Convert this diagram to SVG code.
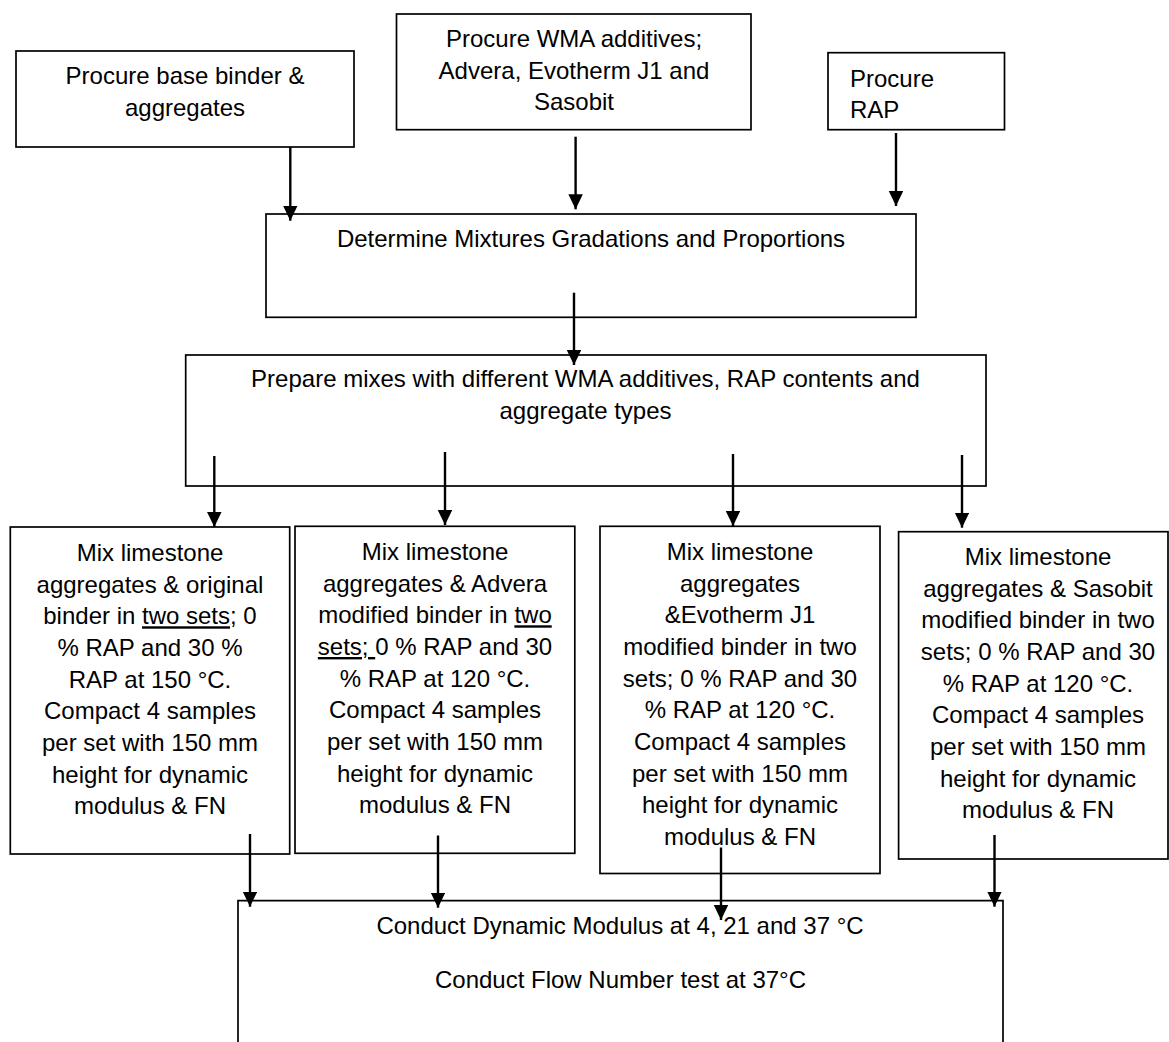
<svg xmlns="http://www.w3.org/2000/svg" width="1169" height="1042" viewBox="0 0 1169 1042">
<style>
.box{fill:#fff;stroke:#000;stroke-width:1.7}
.t{font-family:"Liberation Sans",Arial,sans-serif;font-size:24px;fill:#000}
.c{text-anchor:middle}
.ln{stroke:#000;stroke-width:2.4;fill:none}
.u{text-decoration:underline}
</style>
<defs>
<marker id="ah" markerWidth="16" markerHeight="16" refX="15" refY="7.25" orient="auto" markerUnits="userSpaceOnUse">
<path d="M0,0 L15,7.25 L0,14.5 Z" fill="#000"/>
</marker>
</defs>
<rect width="1169" height="1042" fill="#fff"/>

<g id="n-base">
<rect class="box" x="16" y="51" width="338" height="96"/>
<text class="t c" x="185" y="84">Procure base binder &amp;</text>
<text class="t c" x="185" y="115.7">aggregates</text>
</g>

<g id="n-wma">
<rect class="box" x="396.5" y="14" width="354.5" height="115.7"/>
<text class="t c" x="574" y="47">Procure WMA additives;</text>
<text class="t c" x="574" y="78.7">Advera, Evotherm J1 and</text>
<text class="t c" x="574" y="110.4">Sasobit</text>
</g>

<g id="n-rap">
<rect class="box" x="828" y="52.7" width="176.5" height="77"/>
<text class="t" x="850" y="86.5">Procure</text>
<text class="t" x="850" y="118">RAP</text>
</g>

<g id="n-determine">
<rect class="box" x="266" y="214" width="650" height="103.3"/>
<text class="t c" x="591" y="247">Determine Mixtures Gradations and Proportions</text>
</g>

<g id="n-prepare">
<rect class="box" x="185.7" y="355" width="800.3" height="131"/>
<text class="t c" x="585.5" y="387">Prepare mixes with different WMA additives, RAP contents and</text>
<text class="t c" x="585.5" y="418.5">aggregate types</text>
</g>

<g id="n-mixA">
<rect class="box" x="10.3" y="527" width="279.4" height="327"/>
<text class="t c" x="150" y="561">Mix limestone</text>
<text class="t c" x="150" y="592.7">aggregates &amp; original</text>
<text class="t c" x="150" y="624.3">binder in <tspan class="u">two sets</tspan>; 0</text>
<text class="t c" x="150" y="656">% RAP and 30 %</text>
<text class="t c" x="150" y="687.7">RAP at 150 °C.</text>
<text class="t c" x="150" y="719.3">Compact 4 samples</text>
<text class="t c" x="150" y="751">per set with 150 mm</text>
<text class="t c" x="150" y="782.7">height for dynamic</text>
<text class="t c" x="150" y="814.3">modulus &amp; FN</text>
</g>

<g id="n-mixB">
<rect class="box" x="295" y="526.3" width="279.8" height="327"/>
<text class="t c" x="435" y="560">Mix limestone</text>
<text class="t c" x="435" y="591.7">aggregates &amp; Advera</text>
<text class="t c" x="435" y="623.3">modified binder in <tspan class="u">two</tspan></text>
<text class="t c" x="435" y="655" xml:space="preserve"><tspan class="u">sets; </tspan>0 % RAP and 30</text>
<text class="t c" x="435" y="686.7">% RAP at 120 °C.</text>
<text class="t c" x="435" y="718.3">Compact 4 samples</text>
<text class="t c" x="435" y="750">per set with 150 mm</text>
<text class="t c" x="435" y="781.7">height for dynamic</text>
<text class="t c" x="435" y="813.3">modulus &amp; FN</text>
</g>

<g id="n-mixC">
<rect class="box" x="600" y="526.3" width="280" height="347.2"/>
<text class="t c" x="740" y="560">Mix limestone</text>
<text class="t c" x="740" y="591.7">aggregates</text>
<text class="t c" x="740" y="623.3">&amp;Evotherm J1</text>
<text class="t c" x="740" y="655">modified binder in two</text>
<text class="t c" x="740" y="686.7">sets; 0 % RAP and 30</text>
<text class="t c" x="740" y="718.3">% RAP at 120 °C.</text>
<text class="t c" x="740" y="750">Compact 4 samples</text>
<text class="t c" x="740" y="781.7">per set with 150 mm</text>
<text class="t c" x="740" y="813.3">height for dynamic</text>
<text class="t c" x="740" y="845">modulus &amp; FN</text>
</g>

<g id="n-mixD">
<rect class="box" x="898.6" y="531.7" width="269.4" height="327.3"/>
<text class="t c" x="1038" y="565">Mix limestone</text>
<text class="t c" x="1038" y="596.7">aggregates &amp; Sasobit</text>
<text class="t c" x="1038" y="628.3">modified binder in two</text>
<text class="t c" x="1038" y="660">sets; 0 % RAP and 30</text>
<text class="t c" x="1038" y="691.7">% RAP at 120 °C.</text>
<text class="t c" x="1038" y="723.3">Compact 4 samples</text>
<text class="t c" x="1038" y="755">per set with 150 mm</text>
<text class="t c" x="1038" y="786.7">height for dynamic</text>
<text class="t c" x="1038" y="818.3">modulus &amp; FN</text>
</g>

<g id="n-conduct">
<path class="box" d="M238,1046 V900.7 H1003 V1046"/>
<text class="t c" x="620" y="933.5">Conduct Dynamic Modulus at 4, 21 and 37 °C</text>
<text class="t c" x="620.5" y="987.5">Conduct Flow Number test at 37°C</text>
</g>

<g id="connectors" class="ln" marker-end="url(#ah)">
<line x1="290.3" y1="147" x2="290.3" y2="220.7"/>
<line x1="575.6" y1="136.7" x2="575.6" y2="209.3"/>
<line x1="896" y1="133" x2="896" y2="206"/>
<line x1="574" y1="292.7" x2="574" y2="365"/>
<line x1="214.3" y1="456" x2="214.3" y2="527"/>
<line x1="445" y1="452" x2="445" y2="525"/>
<line x1="733" y1="454" x2="733" y2="526"/>
<line x1="962" y1="455" x2="962" y2="527.7"/>
<line x1="250" y1="834" x2="250" y2="906.7"/>
<line x1="438" y1="835.5" x2="438" y2="907.7"/>
<line x1="721" y1="847.5" x2="721" y2="920"/>
<line x1="994.5" y1="835" x2="994.5" y2="906.7"/>
</g>
</svg>
